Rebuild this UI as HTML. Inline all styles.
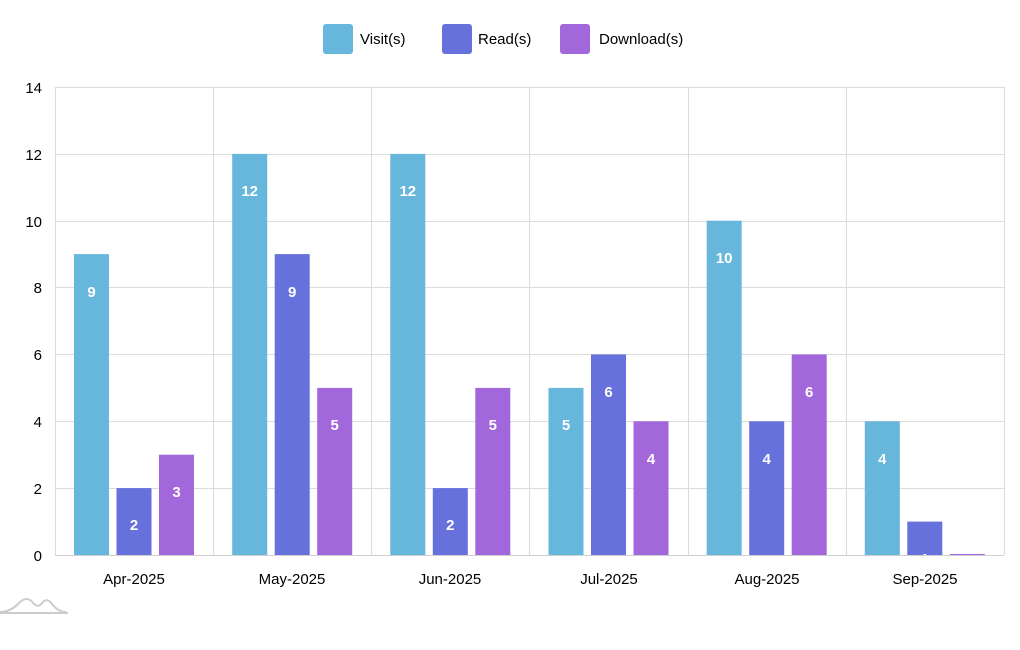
<!DOCTYPE html>
<html><head><meta charset="utf-8"><style>
html,body{margin:0;padding:0;background:#fff;}
svg{display:block;font-family:"Liberation Sans Narrow","Liberation Sans",sans-serif;}
</style></head><body>
<svg width="1020" height="650" viewBox="0 0 1020 650">
<defs><clipPath id="c"><rect x="55" y="80" width="950" height="475"/></clipPath></defs>
<g stroke="#dcdcdc" stroke-width="1">
<line x1="55" y1="87.5" x2="1004" y2="87.5"/>
<line x1="55" y1="154.5" x2="1004" y2="154.5"/>
<line x1="55" y1="221.5" x2="1004" y2="221.5"/>
<line x1="55" y1="287.5" x2="1004" y2="287.5"/>
<line x1="55" y1="354.5" x2="1004" y2="354.5"/>
<line x1="55" y1="421.5" x2="1004" y2="421.5"/>
<line x1="55" y1="488.5" x2="1004" y2="488.5"/>
<line x1="55.5" y1="87" x2="55.5" y2="555"/>
<line x1="213.5" y1="87" x2="213.5" y2="555"/>
<line x1="371.5" y1="87" x2="371.5" y2="555"/>
<line x1="529.5" y1="87" x2="529.5" y2="555"/>
<line x1="688.5" y1="87" x2="688.5" y2="555"/>
<line x1="846.5" y1="87" x2="846.5" y2="555"/>
<line x1="1004.5" y1="87" x2="1004.5" y2="555"/>
</g>
<g clip-path="url(#c)">
<g fill="#67b7dc">
<rect x="74" y="254.1" width="35" height="300.9"/>
<rect x="232.2" y="153.9" width="35" height="401.1"/>
<rect x="390.3" y="153.9" width="35" height="401.1"/>
<rect x="548.5" y="387.9" width="35" height="167.1"/>
<rect x="706.7" y="220.7" width="35" height="334.3"/>
<rect x="864.8" y="421.3" width="35" height="133.7"/>
</g>
<g fill="#6771dc">
<rect x="116.5" y="488.1" width="35" height="66.9"/>
<rect x="274.7" y="254.1" width="35" height="300.9"/>
<rect x="432.8" y="488.1" width="35" height="66.9"/>
<rect x="591" y="354.4" width="35" height="200.6"/>
<rect x="749.2" y="421.3" width="35" height="133.7"/>
<rect x="907.3" y="521.6" width="35" height="33.4"/>
</g>
<g fill="#a367dc">
<rect x="159" y="454.7" width="35" height="100.3"/>
<rect x="317.2" y="387.9" width="35" height="167.1"/>
<rect x="475.3" y="387.9" width="35" height="167.1"/>
<rect x="633.5" y="421.3" width="35" height="133.7"/>
<rect x="791.7" y="354.4" width="35" height="200.6"/>
<rect x="949.8" y="554" width="35" height="1"/>
</g>
<g fill="#fff" font-size="15" font-weight="bold" text-anchor="middle">
<text x="91.5" y="297">9</text><text x="134" y="530">2</text><text x="176.5" y="497">3</text>
<text x="249.7" y="196">12</text><text x="292.2" y="297">9</text><text x="334.7" y="430">5</text>
<text x="407.8" y="196">12</text><text x="450.3" y="530">2</text><text x="492.8" y="430">5</text>
<text x="566" y="430">5</text><text x="608.5" y="397">6</text><text x="651" y="464">4</text>
<text x="724.2" y="263">10</text><text x="766.7" y="464">4</text><text x="809.2" y="397">6</text>
<text x="882.3" y="464">4</text><text x="924.8" y="564">1</text>
</g>
</g>
<line x1="55" y1="555.5" x2="1004" y2="555.5" stroke="#cfcfcf"/>
<g font-size="15" fill="#000" text-anchor="end">
<text x="42" y="93">14</text><text x="42" y="160">12</text><text x="42" y="227">10</text>
<text x="42" y="293">8</text><text x="42" y="360">6</text><text x="42" y="427">4</text>
<text x="42" y="494">2</text><text x="42" y="561">0</text>
</g>
<g font-size="15" fill="#000" text-anchor="middle">
<text x="134" y="584">Apr-2025</text><text x="292" y="584">May-2025</text>
<text x="450" y="584">Jun-2025</text><text x="609" y="584">Jul-2025</text>
<text x="767" y="584">Aug-2025</text><text x="925" y="584">Sep-2025</text>
</g>
<rect x="323" y="24" width="30" height="30" rx="3" fill="#67b7dc"/>
<rect x="442" y="24" width="30" height="30" rx="3" fill="#6771dc"/>
<rect x="560" y="24" width="30" height="30" rx="3" fill="#a367dc"/>
<g font-size="15" fill="#000">
<text x="360" y="44">Visit(s)</text><text x="478" y="44">Read(s)</text><text x="599" y="44">Download(s)</text>
</g>
<path d="M0 612 Q10 612 18 604 Q27 594 34 604 Q39 608 42 603 Q47 597 52 604 Q58 612 66 612" fill="none" stroke="#ccc" stroke-width="2"/>
<line x1="0" y1="613" x2="68" y2="613" stroke="#ccc" stroke-width="2"/>
</svg>
</body></html>
